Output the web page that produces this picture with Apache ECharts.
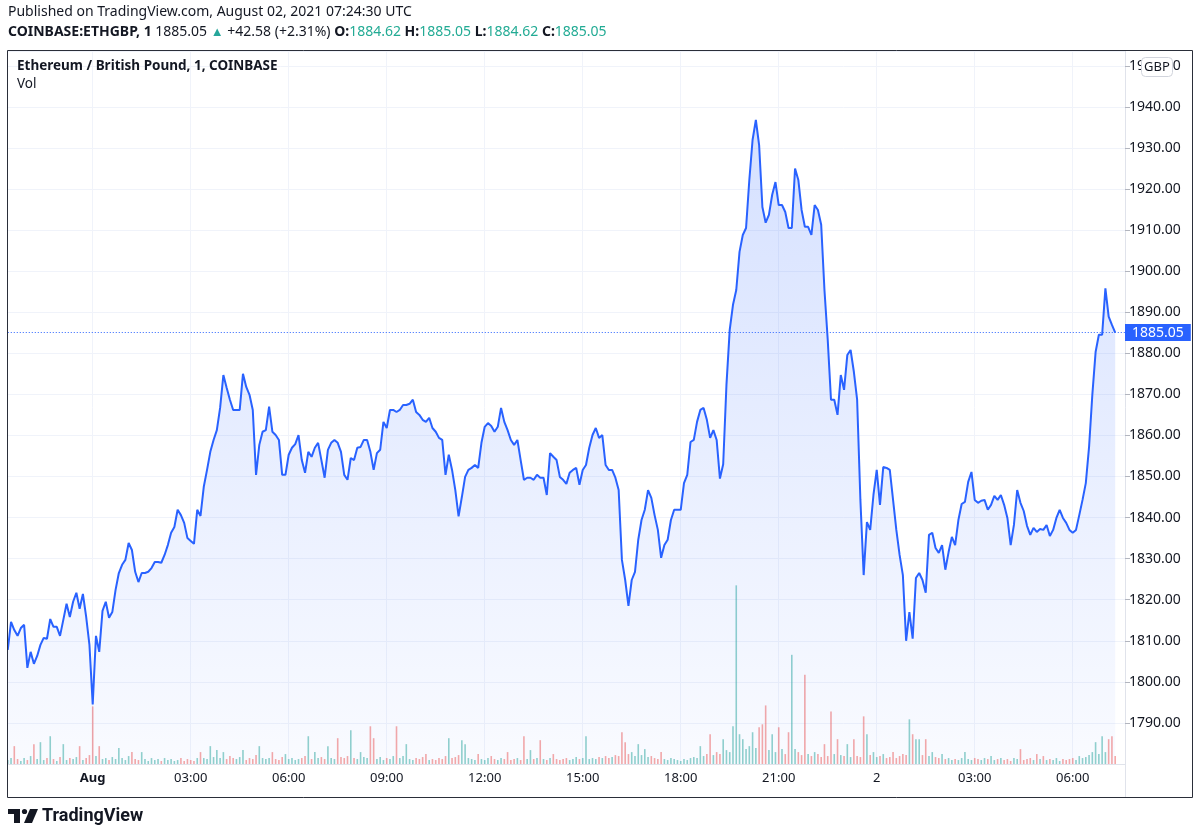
<!DOCTYPE html>
<html>
<head>
<meta charset="utf-8">
<script src="https://cdn.jsdelivr.net/npm/echarts@6/dist/echarts.min.js"></script>
<style>
html, body { margin: 0; padding: 0; background: #ffffff; }
#chart { width: 1200px; height: 837px; }
</style>
</head>
<body>
<div id="chart"></div>
<script>
// 1-minute ETH/GBP, every 6 minutes
var startTime = Date.UTC(2021, 6, 31, 21, 24);
var stepMinutes = 6;
var axisStart = Date.UTC(2021, 6, 31, 21, 0);   // on a 3h boundary
var axisEnd = Date.UTC(2021, 7, 2, 7, 36);
var HOUR = 3600 * 1000;

var prices = [
    1807.8, 1814.6, 1812.6, 1811.2, 1813.1, 1813.9, 1803.4, 1807.3, 1804.4, 1806.3,
    1809.0, 1810.7, 1810.5, 1815.3, 1813.4, 1813.4, 1811.2, 1815.1, 1819.0, 1815.8,
    1819.5, 1821.7, 1817.8, 1821.4, 1815.8, 1809.0, 1794.5, 1811.2, 1807.3, 1817.3,
    1819.5, 1815.6, 1817.0, 1822.4, 1826.5, 1828.5, 1829.7, 1833.8, 1832.1, 1826.8,
    1824.3, 1826.5, 1826.5, 1826.8, 1827.7, 1829.2, 1829.2, 1829.0, 1830.9, 1833.3,
    1836.3, 1837.7, 1841.9, 1840.6, 1838.7, 1835.0, 1834.3, 1833.6, 1841.9, 1840.4,
    1847.5, 1851.6, 1856.0, 1858.9, 1861.3, 1866.7, 1874.7, 1871.6, 1868.7, 1866.2,
    1866.2, 1866.2, 1875.0, 1871.8, 1869.9, 1866.2, 1850.4, 1857.7, 1860.9, 1861.3,
    1867.0, 1860.9, 1860.1, 1858.9, 1850.4, 1850.4, 1855.3, 1857.0, 1857.9, 1860.1,
    1854.0, 1850.9, 1856.0, 1854.8, 1857.0, 1858.2, 1854.0, 1849.7, 1856.5, 1858.2,
    1858.9, 1858.2, 1856.0, 1850.4, 1849.2, 1854.5, 1854.0, 1857.0, 1857.2, 1858.9,
    1858.9, 1856.0, 1851.6, 1855.7, 1856.5, 1863.3, 1861.8, 1866.2, 1866.2, 1865.7,
    1866.2, 1867.4, 1867.4, 1867.7, 1868.7, 1865.7, 1865.0, 1863.8, 1863.3, 1864.3,
    1861.8, 1860.9, 1859.4, 1858.9, 1850.4, 1855.3, 1851.6, 1846.7, 1840.3, 1845.0,
    1849.9, 1851.6, 1852.1, 1852.8, 1852.1, 1858.2, 1862.1, 1863.0, 1862.3, 1860.9,
    1862.1, 1866.7, 1863.3, 1861.3, 1858.9, 1857.7, 1858.9, 1854.0, 1849.2, 1849.7,
    1849.7, 1849.2, 1850.4, 1849.7, 1849.7, 1845.5, 1855.7, 1854.8, 1854.0, 1849.9,
    1849.2, 1848.2, 1850.9, 1851.6, 1852.1, 1848.0, 1851.6, 1852.8, 1857.0, 1860.1,
    1861.8, 1859.4, 1860.1, 1852.8, 1851.6, 1851.6, 1849.7, 1846.7, 1829.7, 1824.8,
    1818.5, 1824.8, 1826.8, 1834.6, 1839.4, 1841.9, 1846.7, 1844.8, 1840.6, 1837.0,
    1830.2, 1833.3, 1834.6, 1839.4, 1841.9, 1841.9, 1841.9, 1848.4, 1850.4, 1858.4,
    1858.9, 1863.3, 1866.2, 1866.7, 1863.8, 1859.4, 1861.3, 1858.9, 1849.5, 1853.0,
    1872.3, 1885.7, 1891.8, 1895.4, 1904.7, 1908.8, 1910.5, 1922.2, 1932.0, 1936.8,
    1930.7, 1915.6, 1911.8, 1913.7, 1918.6, 1921.7, 1916.1, 1916.1, 1914.4, 1910.5,
    1910.5, 1925.0, 1922.2, 1914.9, 1910.8, 1910.8, 1908.8, 1916.1, 1914.9, 1911.3,
    1895.4, 1883.3, 1868.7, 1868.7, 1865.0, 1874.7, 1871.1, 1879.6, 1880.8, 1875.5,
    1868.7, 1844.3, 1826.0, 1838.9, 1837.0, 1845.5, 1851.6, 1843.1, 1852.3, 1852.1,
    1851.6, 1844.3, 1837.0, 1830.9, 1826.0, 1810.0, 1817.0, 1810.5, 1825.3, 1826.5,
    1824.8, 1821.7, 1835.8, 1836.3, 1832.6, 1831.4, 1833.3, 1827.3, 1831.6, 1835.3,
    1833.3, 1839.4, 1843.3, 1843.8, 1848.7, 1851.1, 1844.3, 1843.6, 1844.1, 1844.3,
    1841.9, 1843.1, 1845.3, 1844.3, 1845.5, 1843.1, 1839.9, 1833.3, 1838.2, 1846.7,
    1843.6, 1841.6, 1838.0, 1835.8, 1837.5, 1836.5, 1837.2, 1837.0, 1838.2, 1835.5,
    1837.0, 1839.9, 1841.9, 1839.9, 1838.7, 1837.0, 1836.3, 1837.0, 1840.6, 1844.3,
    1848.4, 1857.2, 1869.9, 1880.3, 1884.5, 1884.5, 1895.8, 1888.9, 1886.9, 1885.05
];

var volumes = [
    0.8, 1.2, 3.6, 1.0, 0.6, 1.2, 0.8, 1.6, 4.0, 1.0,
    4.4, 0.8, 1.2, 5.6, 1.0, 0.6, 1.4, 4.0, 0.8, 1.2,
    1.0, 1.4, 3.6, 0.8, 1.2, 1.8, 11.6, 1.6, 3.6, 1.0,
    1.2, 0.8, 1.4, 1.0, 3.2, 1.2, 0.8, 1.6, 2.4, 1.0,
    0.8, 2.4, 1.0, 0.6, 1.2, 0.8, 1.0, 0.6, 1.2, 0.8,
    1.0, 0.6, 0.8, 1.2, 0.6, 1.0, 0.8, 0.6, 1.2, 2.4,
    1.2, 1.0, 3.6, 1.4, 2.8, 1.2, 2.4, 1.0, 1.6, 1.2,
    1.0, 1.4, 2.8, 0.8, 1.2, 1.0, 1.8, 3.6, 1.2, 1.0,
    1.2, 2.4, 1.0, 0.8, 1.4, 2.0, 1.0, 1.2, 0.8, 1.0,
    1.2, 1.6, 5.6, 1.0, 2.4, 1.2, 1.4, 1.0, 3.6, 1.2,
    1.0, 5.2, 1.4, 1.2, 1.6, 6.8, 1.2, 1.0, 2.4, 1.4,
    1.2, 7.6, 5.2, 1.0, 1.4, 0.8, 1.2, 1.0, 1.6, 7.6,
    1.2, 1.6, 4.0, 1.0, 0.8, 1.2, 1.0, 1.4, 2.0, 0.8,
    1.0, 0.8, 1.2, 1.0, 1.6, 5.2, 1.2, 1.4, 1.8, 4.8,
    4.0, 1.2, 1.0, 0.8, 2.0, 1.0, 0.8, 1.2, 1.6, 1.0,
    0.8, 1.2, 1.0, 2.4, 0.8, 1.0, 1.2, 0.8, 5.6, 1.0,
    2.8, 1.0, 1.2, 4.8, 1.0, 0.8, 1.2, 2.0, 1.0, 0.8,
    1.0, 1.2, 0.8, 1.0, 1.4, 1.0, 1.2, 5.6, 1.0, 1.2,
    1.0, 1.4, 1.2, 1.6, 1.2, 1.4, 1.8, 1.6, 6.4, 4.4,
    2.0, 2.4, 1.6, 4.0, 1.8, 3.0, 1.4, 1.6, 1.2, 1.0,
    2.4, 1.0, 0.8, 1.2, 1.0, 0.8, 0.6, 1.0, 0.8, 1.2,
    1.4, 1.2, 3.6, 1.6, 2.0, 6.0, 1.8, 2.4, 2.0, 5.0,
    2.8, 2.4, 7.6, 36.0, 6.0, 5.0, 3.0, 3.6, 6.4, 3.2,
    7.4, 8.0, 11.8, 2.8, 6.0, 2.4, 7.4, 3.0, 2.0, 6.4,
    22.0, 3.0, 2.4, 1.8, 18.0, 2.0, 1.6, 2.4, 2.0, 1.4,
    4.0, 1.6, 10.6, 2.0, 5.0, 1.8, 1.6, 4.0, 1.4, 5.0,
    1.6, 1.4, 9.6, 6.0, 1.8, 2.4, 1.4, 1.6, 2.0, 1.2,
    1.4, 2.4, 1.2, 1.6, 2.0, 1.8, 9.0, 6.0, 5.0, 5.0,
    1.8, 5.0, 1.6, 2.4, 1.4, 1.2, 2.0, 1.0, 1.2, 0.8,
    1.0, 0.8, 1.2, 2.4, 1.0, 0.8, 1.2, 1.0, 0.8, 1.2,
    1.0, 1.6, 0.8, 1.0, 1.2, 0.8, 1.0, 0.6, 1.2, 1.0,
    3.0, 0.8, 1.0, 1.2, 0.8, 2.0, 1.0, 1.6, 0.8, 1.0,
    0.8, 1.2, 0.6, 1.0, 0.8, 1.0, 1.2, 0.8, 1.6, 1.2,
    1.4, 1.8, 2.4, 4.4, 2.0, 5.6, 2.4, 5.0, 5.6, 1.6
];

var lastPrice = 1885.05;
var publishedText = 'Published on TradingView.com, August 02, 2021 07:24:30 UTC';
var symbolText = 'COINBASE:ETHGBP, 1';
var changeText = '+42.58 (+2.31%)';
var ohlc = [['O:', '1884.62'], ['H:', '1885.05'], ['L:', '1884.62'], ['C:', '1885.05']];
var legendTitle = 'Ethereum / British Pound, 1, COINBASE';
var legendVol = 'Vol';
var currency = 'GBP';
var monthLabel = 'Aug';

var FONT = '"Noto Sans", sans-serif';
var TEXT = '#131722';
var UP = '#26a69a';

var priceData = [];
var volData = [];
for (var i = 0; i < prices.length; i++) {
    var t = startTime + i * stepMinutes * 60000;
    priceData.push([t, prices[i]]);
    var up = i === 0 || prices[i] >= prices[i - 1];
    volData.push({
        value: [t, volumes[i]],
        itemStyle: { color: up ? 'rgba(38,166,154,0.5)' : 'rgba(239,83,80,0.5)' }
    });
}

function timeLabel(value) {
    var d = new Date(value);
    var h = d.getUTCHours();
    if (d.getUTCMinutes() !== 0) return '';
    if (h === 0) {
        return d.getUTCDate() === 1 ? '{b|' + monthLabel + '}' : String(d.getUTCDate());
    }
    return (h < 10 ? '0' : '') + h + ':00';
}

var headerRich = '{b|' + symbolText + '} {n|' + lastPrice.toFixed(2) + '} {g|\u25B2} {n|' + changeText + '}';
ohlc.forEach(function (p) {
    headerRich += ' {b|' + p[0] + '}{t|' + p[1] + '}';
});

// grid starts a little left of the frame so the 3h ticks line up
var gridLeft = -5.3;

var chart = echarts.init(document.getElementById('chart'));
var option = {
    animation: false,
    backgroundColor: '#ffffff',
    textStyle: { fontFamily: FONT },
    grid: [
        { left: gridLeft, right: 75, top: 51, bottom: 73, outerBoundsMode: 'none', containLabel: false },
        { left: gridLeft, right: 75, top: 563, bottom: 73, outerBoundsMode: 'none', containLabel: false }
    ],
    xAxis: [
        {
            type: 'value',
            gridIndex: 0,
            min: axisStart,
            max: axisEnd,
            interval: 3 * HOUR,
            axisLine: { lineStyle: { color: '#e0e3eb' } },
            axisTick: { show: false },
            splitLine: { show: true, lineStyle: { color: '#f0f3fa' } },
            axisLabel: {
                formatter: timeLabel,
                color: TEXT,
                fontSize: 13,
                fontFamily: FONT,
                margin: 8,
                showMinLabel: false,
                showMaxLabel: false,
                rich: { b: { fontWeight: 'bold', fontSize: 13, color: TEXT, fontFamily: FONT } }
            }
        },
        {
            type: 'value',
            gridIndex: 1,
            min: axisStart,
            max: axisEnd,
            show: false
        }
    ],
    yAxis: [
        {
            type: 'value',
            gridIndex: 0,
            position: 'right',
            min: 1780,
            max: 1953.6,
            interval: 10,
            axisLine: { show: true, lineStyle: { color: '#e0e3eb' } },
            axisTick: { show: true, length: 5, lineStyle: { color: '#b2b5be' } },
            splitLine: { show: true, lineStyle: { color: '#f0f3fa' } },
            axisLabel: {
                color: TEXT,
                fontSize: 14,
                fontFamily: FONT,
                margin: 4,
                showMinLabel: false,
                showMaxLabel: false,
                formatter: function (v) { return v.toFixed(2); }
            }
        },
        {
            type: 'value',
            gridIndex: 1,
            min: 0,
            max: 40.5,
            show: false
        }
    ],
    series: [
        {
            name: 'ETHGBP',
            type: 'line',
            xAxisIndex: 0,
            yAxisIndex: 0,
            data: priceData,
            showSymbol: false,
            sampling: 'none',
            lineStyle: { color: '#2962ff', width: 2 },
            itemStyle: { color: '#2962ff' },
            areaStyle: {
                color: new echarts.graphic.LinearGradient(0, 0, 0, 1, [
                    { offset: 0, color: 'rgba(41,98,255,0.28)' },
                    { offset: 1, color: 'rgba(41,98,255,0.04)' }
                ])
            },
            markLine: {
                silent: true,
                symbol: 'none',
                data: [[{ xAxis: startTime, yAxis: lastPrice }, { xAxis: axisEnd, yAxis: lastPrice }]],
                lineStyle: { color: '#2962ff', type: [1, 2], width: 1 },
                label: {
                    position: 'end',
                    distance: 0,
                    formatter: lastPrice.toFixed(2),
                    color: '#ffffff',
                    backgroundColor: '#2962ff',
                    fontSize: 14,
                    fontFamily: FONT,
                    padding: [2, 7, 1, 7]
                }
            },
            z: 3
        },
        {
            name: 'Vol',
            type: 'bar',
            xAxisIndex: 1,
            yAxisIndex: 1,
            data: volData,
            barWidth: 1.6,
            silent: true,
            z: 2
        }
    ],
    graphic: [
        {
            type: 'rect', z: 15, silent: true,
            shape: { x: 0, y: 40, width: 7.5, height: 770 },
            style: { fill: '#ffffff' }
        },
        {
            type: 'text', left: 8, top: 5,
            style: { text: publishedText, fill: TEXT, font: '14px ' + FONT }
        },
        {
            type: 'text', left: 8, top: 25,
            style: {
                text: headerRich,
                fill: TEXT,
                font: '14px ' + FONT,
                rich: {
                    b: { fontWeight: 'bold', fontSize: 14, fontFamily: FONT, fill: TEXT },
                    n: { fontSize: 14, fontFamily: FONT, fill: TEXT },
                    g: { fontSize: 13, fontFamily: FONT, fill: UP },
                    t: { fontSize: 14, fontFamily: FONT, fill: '#22ab94' }
                }
            }
        },
        {
            type: 'text', left: 17, top: 59, z: 10,
            style: { text: legendTitle, fill: TEXT, font: 'bold 13.5px ' + FONT }
        },
        {
            type: 'text', left: 17, top: 77, z: 10,
            style: { text: legendVol, fill: TEXT, font: '13.5px ' + FONT }
        },
        {
            type: 'rect', z: 20, silent: true,
            shape: { x: 7.5, y: 50.5, width: 1185, height: 747 },
            style: { fill: 'none', stroke: '#2a2e39', lineWidth: 1 }
        },
        {
            type: 'line', z: 20, silent: true,
            shape: { x1: 1125.5, y1: 764, x2: 1125.5, y2: 797 },
            style: { stroke: '#e0e3eb', lineWidth: 1 }
        },
        {
            type: 'group', z: 30,
            children: [
                {
                    type: 'rect',
                    shape: { x: 1141.5, y: 57.5, width: 31, height: 19, r: 4 },
                    style: { fill: '#ffffff', stroke: '#d1d4dc', lineWidth: 1 },
                    z: 30
                },
                {
                    type: 'text', x: 1157, y: 67, z: 31,
                    style: { text: currency, fill: TEXT, font: '13px ' + FONT, align: 'center', verticalAlign: 'middle' }
                }
            ]
        },
        {
            type: 'group', z: 10,
            children: [
                { type: 'rect', shape: { x: 8, y: 809, width: 12, height: 5 }, style: { fill: TEXT } },
                { type: 'rect', shape: { x: 14, y: 809, width: 6, height: 14 }, style: { fill: TEXT } },
                { type: 'circle', shape: { cx: 24.5, cy: 811.5, r: 2.6 }, style: { fill: TEXT } },
                { type: 'polygon', shape: { points: [[30, 809], [38, 809], [32, 823], [24, 823]] }, style: { fill: TEXT } },
                {
                    type: 'text', x: 42, y: 816,
                    style: { text: 'TradingView', fill: TEXT, font: 'bold 18px Roboto, sans-serif', verticalAlign: 'middle' }
                }
            ]
        }
    ]
};

chart.setOption(option);
</script>
</body>
</html>
